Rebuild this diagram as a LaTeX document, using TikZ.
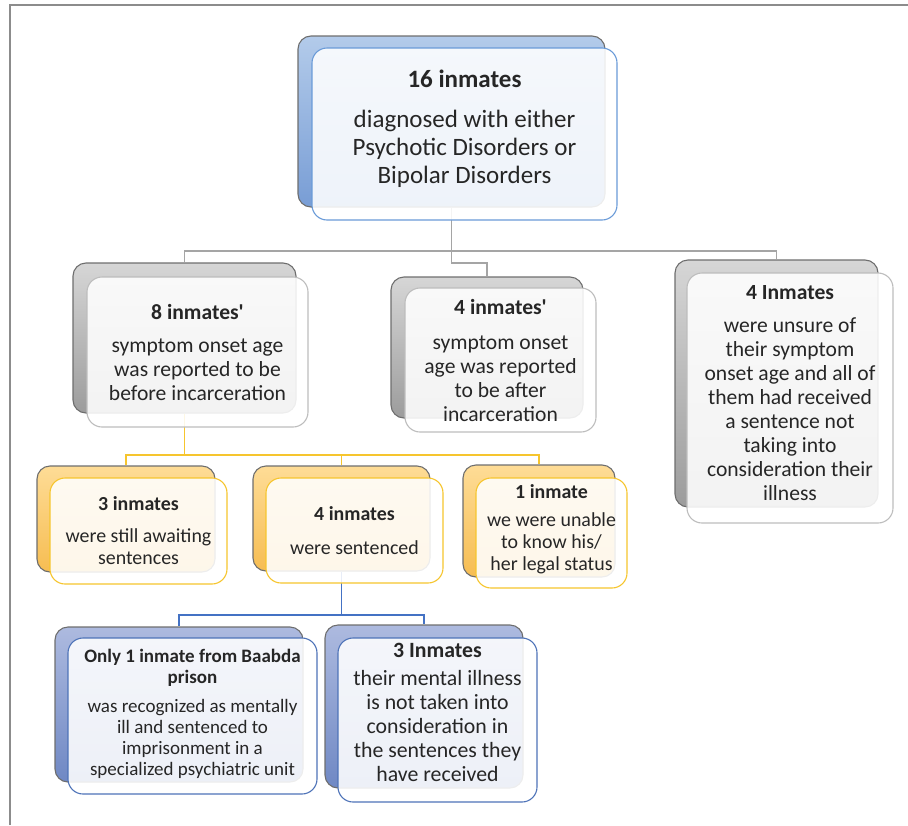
\documentclass[tikz,border=0pt]{standalone}
\usepackage{fontspec}
\setmainfont{Carlito}
\usepackage{tikz}
\definecolor{txt}{HTML}{262626}
\definecolor{edgeback}{HTML}{6E6E6E}
\definecolor{frameg}{HTML}{8C8C8C}
\definecolor{bluetop}{HTML}{B3CBEA}
\definecolor{bluebot}{HTML}{789DD5}
\definecolor{blueline}{HTML}{6A9BD8}
\definecolor{graytop}{HTML}{D6D6D6}
\definecolor{graybot}{HTML}{9C9C9C}
\definecolor{grayline}{HTML}{BDBDBD}
\definecolor{conngray}{HTML}{A5A5A5}
\definecolor{orgtop}{HTML}{FEDC96}
\definecolor{orgbot}{HTML}{F6BD52}
\definecolor{orgline}{HTML}{F6C52E}
\definecolor{indtop}{HTML}{ADBADF}
\definecolor{indbot}{HTML}{6F88C4}
\definecolor{indline}{HTML}{4E73B8}
\definecolor{connblue}{HTML}{4472C4}
\tikzstyle{card} = [rectangle, rounded corners=13pt, line width=1.1pt, draw=edgeback]
\tikzstyle{b1} = [card, top color=bluetop, bottom color=bluebot]
\tikzstyle{b2} = [card, top color=graytop, bottom color=graybot]
\tikzstyle{b3} = [card, top color=orgtop, bottom color=orgbot]
\tikzstyle{b4} = [card, top color=indtop, bottom color=indbot]
\tikzstyle{face} = [rectangle, rounded corners=15pt, line width=1.1pt, fill=white, fill opacity=0.88, text opacity=1, text=txt, align=center]
\tikzstyle{f1} = [face, draw=blueline, font=\fontsize{25}{28}\selectfont]
\tikzstyle{f2} = [face, draw=grayline, font=\fontsize{21.6}{24}\selectfont]
\tikzstyle{f3} = [face, draw=orgline, font=\fontsize{19.9}{22}\selectfont]
\tikzstyle{f4} = [face, draw=indline]
\tikzstyle{c1} = [draw=conngray, line width=1.6pt]
\tikzstyle{c2} = [draw=orgline, line width=1.6pt]
\tikzstyle{c3} = [draw=connblue, line width=1.6pt]

\begin{document}
\begin{tikzpicture}[x=1pt, y=-1pt]
\useasboundingbox (0,0) rectangle (908,825);
\draw[frameg, line width=1.5pt] (10,825) -- (10,5) -- (908,5);
\node(Rb)[b1, minimum width=307, minimum height=171] at (451.5,121.5) {};
\node(Lb)[b2, minimum width=223, minimum height=150] at (184.5,338) {};
\node(Mb)[b2, minimum width=192, minimum height=141] at (487,347.5) {};
\node(Nb)[b2, minimum width=203, minimum height=247] at (776.5,383.5) {};
\node(Ab)[b3, minimum width=178, minimum height=106] at (126,519) {};
\node(Bb)[b3, minimum width=177, minimum height=105] at (341.5,518.5) {};
\node(Cb)[b3, minimum width=152, minimum height=112] at (539,521) {};
\node(Db)[b4, minimum width=248, minimum height=155] at (179,704.5) {};
\node(Eb)[b4, minimum width=198, minimum height=163] at (424,706.5) {};
\coordinate(j1) at (451.5,251);
\coordinate(j2) at (184.5,455);
\coordinate(j3) at (341.5,615);
\draw[c1](Rb.south)--(j1)-|(Lb.north);
\draw[c1](j1)-|(Nb.north);
\draw[c1](j1)--++(0,12)-|(Mb.north);
\draw[c2](Lb.south)--(j2)-|(Ab.north);
\draw[c2](j2)-|(Bb.north);
\draw[c2](j2)-|(Cb.north);
\draw[c3](Bb.south)--(j3)-|(Db.north);
\draw[c3](j3)-|(Eb.north);
\node(R)[f1, text depth=14pt, minimum width=305, minimum height=172] at (464.5,134)
	{\textbf{16 inmates}\\[12pt]diagnosed with either\\Psychotic Disorders or\\Bipolar Disorders};
\node(L)[f2, minimum width=221, minimum height=150] at (197.5,352)
	{\textbf{8 inmates\textquotesingle}\\[9pt]symptom onset age\\was reported to be\\before incarceration};
\node(M)[f2, minimum width=191, minimum height=144] at (500.5,360)
	{\textbf{4 inmates\textquotesingle}\\[11pt]symptom onset\\age was reported\\to be after\\incarceration};
\node(N)[f2, text depth=10pt, minimum width=206, minimum height=250] at (790,398)
	{\textbf{4 Inmates}\\[9pt]were unsure of\\their symptom\\onset age and all of\\them had received\\a sentence not\\taking into\\consideration their\\illness};
\node(A)[f3, minimum width=177, minimum height=106] at (138.5,531)
	{\textbf{3 inmates}\\[10pt]were still awaiting\\sentences};
\node(B)[f3, minimum width=177, minimum height=105] at (354.5,530.5)
	{\textbf{4 inmates}\\[12pt]were sentenced};
\node(C)[f3, text depth=10pt, minimum width=151, minimum height=110] at (551.5,533)
	{\textbf{1 inmate}\\[6pt]we were unable\\to know his/\\her legal status};
\node(D)[f4, text depth=8pt, font=\fontsize{19}{21}\selectfont, minimum width=249, minimum height=156] at (192.5,716)
	{\textbf{Only 1 inmate from Baabda}\\\textbf{prison}\\[8pt]was recognized as mentally\\ill and sentenced to\\imprisonment in a\\specialized psychiatric unit};
\node(E)[f4, text depth=16pt, font=\fontsize{21.8}{24}\selectfont, minimum width=199, minimum height=164] at (437.5,720)
	{\textbf{3 Inmates}\\[4pt]their mental illness\\is not taken into\\consideration in\\the sentences they\\have received};
\end{tikzpicture}
\end{document}
